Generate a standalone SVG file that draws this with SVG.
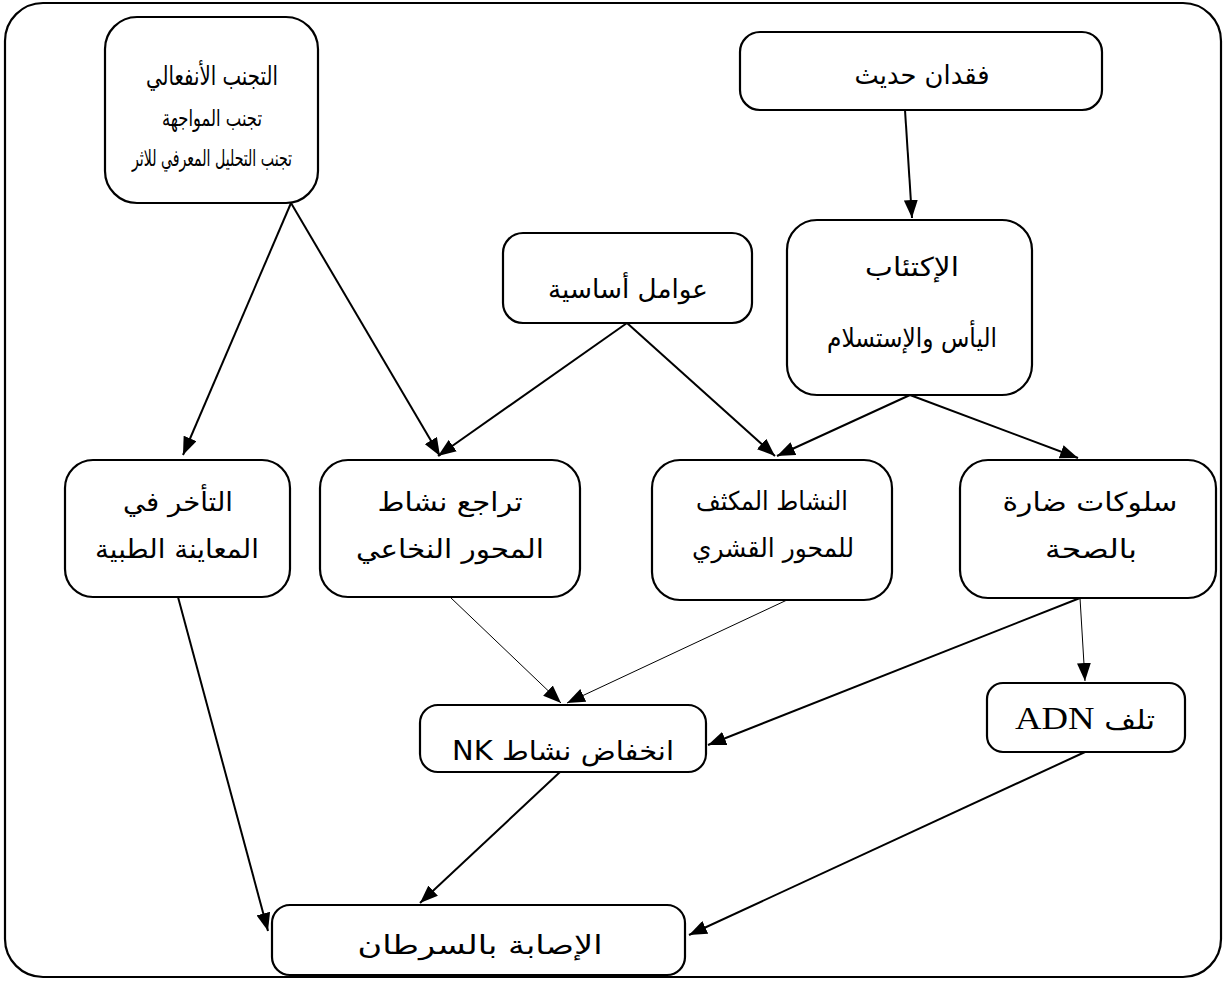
<svg xmlns="http://www.w3.org/2000/svg" width="1224" height="981" viewBox="0 0 1224 981">
  <style>
    .box { fill: #ffffff; stroke: #000000; stroke-width: 2.2; }
    .t { font-family: "DejaVu Sans", "Noto Sans", sans-serif; font-size: 26px; fill: #000000; text-anchor: middle; direction: rtl; }
    .s { font-size: 23px; }
    .lat { font-family: "Liberation Serif", serif; }
    .c { fill: none; stroke: #000000; stroke-width: 2; }
    .thin { stroke-width: 1; }
  </style>
  <defs>
    <marker id="arrow" markerUnits="userSpaceOnUse" markerWidth="19" markerHeight="14" refX="18" refY="7" orient="auto">
      <path d="M0,0 L18,7 L0,14 Z" fill="#000000"/>
    </marker>
  </defs>

  <!-- outer frame -->
  <rect x="5" y="3" width="1216" height="974" rx="38" ry="38" fill="#ffffff" stroke="#000000" stroke-width="2.2"/>

  <g id="connectors">
    <line class="c" x1="291" y1="203" x2="183" y2="455" marker-end="url(#arrow)"/>
    <line class="c" x1="291" y1="203" x2="440" y2="456" marker-end="url(#arrow)"/>
    <line class="c" x1="905" y1="110" x2="912" y2="218" marker-end="url(#arrow)"/>
    <line class="c" x1="627" y1="323" x2="438" y2="456" marker-end="url(#arrow)"/>
    <line class="c" x1="627" y1="323" x2="775" y2="456" marker-end="url(#arrow)"/>
    <line class="c" x1="910" y1="395" x2="777" y2="456" marker-end="url(#arrow)"/>
    <line class="c" x1="910" y1="395" x2="1078" y2="458" marker-end="url(#arrow)"/>
    <line class="c" x1="178" y1="597" x2="268" y2="931" marker-end="url(#arrow)"/>
    <line class="c thin" x1="450" y1="597" x2="561" y2="703" marker-end="url(#arrow)"/>
    <line class="c thin" x1="787" y1="600" x2="567" y2="703" marker-end="url(#arrow)"/>
    <line class="c" x1="1080" y1="598" x2="708" y2="745" marker-end="url(#arrow)"/>
    <line class="c thin" x1="1080" y1="598" x2="1085" y2="681" marker-end="url(#arrow)"/>
    <line class="c" x1="560" y1="772" x2="420" y2="903" marker-end="url(#arrow)"/>
    <line class="c" x1="1085" y1="752" x2="689" y2="935" marker-end="url(#arrow)"/>
  </g>

  <g id="node-avoid">
    <rect class="box" x="105" y="17" width="213" height="186" rx="32" ry="32"/>
    <text class="t" x="212" y="85" font-size="28" textLength="132" lengthAdjust="spacingAndGlyphs">التجنب الأنفعالي</text>
    <text class="t s" x="212" y="126" textLength="100" lengthAdjust="spacingAndGlyphs">تجنب المواجهة</text>
    <text class="t s" x="212" y="166" textLength="160" lengthAdjust="spacingAndGlyphs">تجنب التحليل المعرفي للاثر</text>
  </g>

  <g id="node-loss">
    <rect class="box" x="740" y="32" width="362" height="78" rx="20" ry="20"/>
    <text class="t" x="922" y="84" textLength="135" lengthAdjust="spacingAndGlyphs">فقدان حديث</text>
  </g>

  <g id="node-depression">
    <rect class="box" x="787" y="220" width="245" height="175" rx="30" ry="30"/>
    <text class="t" x="912" y="276" textLength="94" lengthAdjust="spacingAndGlyphs">الإكتئاب</text>
    <text class="t" x="912" y="347" font-size="24" textLength="170" lengthAdjust="spacingAndGlyphs">اليأس والإستسلام</text>
  </g>

  <g id="node-basic">
    <rect class="box" x="503" y="233" width="249" height="90" rx="20" ry="20"/>
    <text class="t" x="628" y="298" textLength="160" lengthAdjust="spacingAndGlyphs">عوامل أساسية</text>
  </g>

  <g id="node-delay">
    <rect class="box" x="65" y="460" width="225" height="137" rx="28" ry="28"/>
    <text class="t" x="178" y="511" textLength="110" lengthAdjust="spacingAndGlyphs">التأخر في</text>
    <text class="t" x="177" y="558" textLength="164" lengthAdjust="spacingAndGlyphs">المعاينة الطبية</text>
  </g>

  <g id="node-spinal">
    <rect class="box" x="320" y="460" width="260" height="137" rx="28" ry="28"/>
    <text class="t" x="450" y="511" textLength="145" lengthAdjust="spacingAndGlyphs">تراجع نشاط</text>
    <text class="t" x="450" y="558" textLength="188" lengthAdjust="spacingAndGlyphs">المحور النخاعي</text>
  </g>

  <g id="node-cortical">
    <rect class="box" x="652" y="460" width="240" height="140" rx="28" ry="28"/>
    <text class="t" x="772" y="510" font-size="27" textLength="152" lengthAdjust="spacingAndGlyphs">النشاط المكثف</text>
    <text class="t" x="773" y="557" font-size="27" textLength="162" lengthAdjust="spacingAndGlyphs">للمحور القشري</text>
  </g>

  <g id="node-behaviour">
    <rect class="box" x="960" y="460" width="256" height="138" rx="28" ry="28"/>
    <text class="t" x="1090" y="511" textLength="175" lengthAdjust="spacingAndGlyphs">سلوكات ضارة</text>
    <text class="t" x="1091" y="558" textLength="92" lengthAdjust="spacingAndGlyphs">بالصحة</text>
  </g>

  <g id="node-nk">
    <rect class="box" x="420" y="705" width="286" height="67" rx="18" ry="18"/>
    <text class="t" x="563" y="760" textLength="222" lengthAdjust="spacingAndGlyphs">انخفاض نشاط NK</text>
  </g>

  <g id="node-dna">
    <rect class="box" x="987" y="683" width="198" height="69" rx="16" ry="16"/>
    <text class="t" x="1085" y="729" textLength="140" lengthAdjust="spacingAndGlyphs">تلف <tspan class="lat" font-size="31">ADN</tspan></text>
  </g>

  <g id="node-cancer">
    <rect class="box" x="272" y="905" width="413" height="70" rx="18" ry="18"/>
    <text class="t" x="480" y="954" textLength="245" lengthAdjust="spacingAndGlyphs">الإصابة بالسرطان</text>
  </g>
</svg>
